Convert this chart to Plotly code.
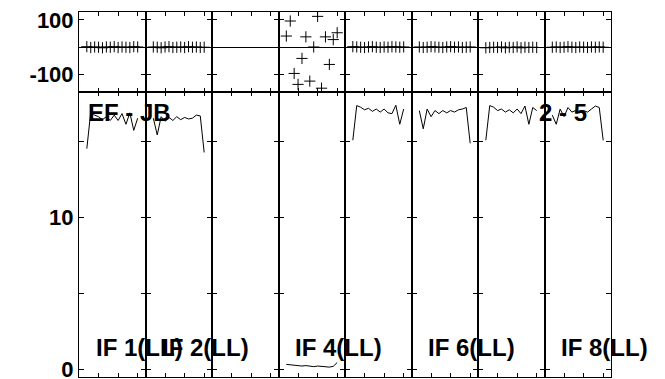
import plotly.graph_objects as go
from plotly.subplots import make_subplots

# channels that carry data in every IF (1 and 16 are flagged)
channels = [2, 3, 4, 5, 6, 7, 8, 9, 10, 11, 12, 13, 14, 15]

if_labels = ['IF 1(LL)', 'IF 2(LL)', '', 'IF 4(LL)', '', 'IF 6(LL)', '', 'IF 8(LL)']

# phases (degrees)
phase_if1 = [2, -1, 1, 0, -2, 1, 0, 2, -1, 1, 0, -1, 2, 1]
phase_if2 = [1, 0, -2, 1, 2, -1, 0, 1, -1, 2, 0, 1, -1, 0]
phase_if3 = []
phase_if4 = [41, 96, -96, -136, -41, 38, -124, 1, 113, -150, 38, -63, 28, 53]
phase_if5 = [2, 1, 0, -1, 1, 2, 0, -1, 1, 0, 2, 1, 0, 1]
phase_if6 = [1, -1, 0, 2, 1, 0, -1, 1, 2, 0, 1, -1, 0, 1]
phase_if7 = [-2, -1, 0, -1, 1, -2, 0, -1, 1, -2, 0, -1, 0, -1]
phase_if8 = [0, 1, -1, 0, 2, 0, -1, 1, 0, -1, 1, 0, 1, 0]

# amplitudes
amp_if1 = [14.5, 16.9, 16.7, 16.6, 16.4, 16.6, 16.35, 16.7, 16.35, 16.8, 16.1, 16.85, 15.7, 16.5]
amp_if2 = [16.5, 15.4, 16.6, 16.3, 16.55, 16.35, 16.6, 16.4, 16.55, 16.45, 16.5, 16.7, 16.65, 14.25]
amp_if3 = []
amp_if4 = [0.33, 0.3, 0.28, 0.25, 0.22, 0.25, 0.2, 0.18, 0.22, 0.2, 0.15, 0.15, 0.2, 0.45]
amp_if5 = [15.05, 17.33, 17.22, 17.05, 17.15, 16.95, 17.1, 16.9, 17.1, 16.85, 16.8, 17.35, 16.1, 17.1]
amp_if6 = [17.0, 15.8, 17.1, 16.6, 17.0, 16.8, 17.0, 16.85, 17.0, 16.9, 17.05, 17.1, 17.2, 14.85]
amp_if7 = [15.05, 17.33, 17.22, 17.0, 17.1, 16.9, 17.05, 16.85, 17.1, 16.8, 17.3, 16.1, 17.2, 17.0]
amp_if8 = [16.7, 16.1, 17.1, 16.6, 17.2, 16.9, 17.0, 16.85, 17.0, 16.9, 17.1, 17.3, 17.2, 15.05]

phases = [phase_if1, phase_if2, phase_if3, phase_if4, phase_if5, phase_if6, phase_if7, phase_if8]
amps = [amp_if1, amp_if2, amp_if3, amp_if4, amp_if5, amp_if6, amp_if7, amp_if8]

FONT = 'Liberation Sans, Arial, sans-serif'

fig = make_subplots(rows=2, cols=8, horizontal_spacing=0, vertical_spacing=0,
                    row_heights=[0.22, 0.78])

for i in range(8):
    col = i + 1
    x = channels if phases[i] else []
    fig.add_trace(go.Scatter(
        x=x, y=phases[i], mode='markers',
        marker=dict(symbol='cross-thin', size=8, line=dict(color='black', width=1)),
        showlegend=False), row=1, col=col)
    x = channels if amps[i] else []
    fig.add_trace(go.Scatter(
        x=x, y=amps[i], mode='lines',
        line=dict(color='black', width=1),
        showlegend=False), row=2, col=col)

    for row in (1, 2):
        fig.update_xaxes(range=[0, 17], tickvals=[5, 10, 15], ticks='inside', ticklen=4,
                         tickcolor='black', showline=True, linecolor='black', linewidth=1,
                         mirror='ticks', showticklabels=False, showgrid=False, zeroline=False,
                         row=row, col=col)
    fig.update_yaxes(range=[-165, 129], tickvals=[-100, 100], ticktext=['-100', '100'],
                     ticks='inside', ticklen=5, tickcolor='black', showline=True,
                     linecolor='black', linewidth=1, mirror='ticks', showgrid=False,
                     zeroline=True, zerolinecolor='black', zerolinewidth=1,
                     showticklabels=(col == 1), ticklabeloverflow='allow',
                     tickfont=dict(family=FONT, size=22, color='black', weight='bold'),
                     row=1, col=col)
    fig.update_yaxes(range=[-0.5, 18.2], tickvals=[0, 5, 10, 15], ticktext=['0', '', '10', ''],
                     ticks='inside', ticklen=5, tickcolor='black', showline=True,
                     linecolor='black', linewidth=1, mirror='ticks', showgrid=False,
                     zeroline=False, showticklabels=(col == 1), ticklabeloverflow='allow',
                     tickfont=dict(family=FONT, size=22, color='black', weight='bold'),
                     row=2, col=col)

    if if_labels[i]:
        fig.add_annotation(text=if_labels[i], xref='x%d domain' % (col + 8), yref='paper',
                           x=0.225, y=0.082, xanchor='left', yanchor='middle', showarrow=False,
                           font=dict(family=FONT, size=24, color='black', weight='bold'))

fig.add_annotation(text='EF - JB', xref='paper', yref='paper', x=0.0126, y=0.726,
                   xanchor='left', yanchor='middle', showarrow=False,
                   font=dict(family=FONT, size=24, color='black', weight='bold'))
fig.add_annotation(text='2 - 5', xref='paper', yref='paper', x=0.86, y=0.7236,
                   xanchor='left', yanchor='middle', showarrow=False,
                   font=dict(family=FONT, size=24, color='black', weight='bold'))

# the page body adds an 8px offset, so the margins are shifted to compensate
fig.update_layout(width=665, height=379, margin=dict(l=71, r=62, t=0, b=10),
                  paper_bgcolor='white', plot_bgcolor='white')

fig.write_html('out.html')
